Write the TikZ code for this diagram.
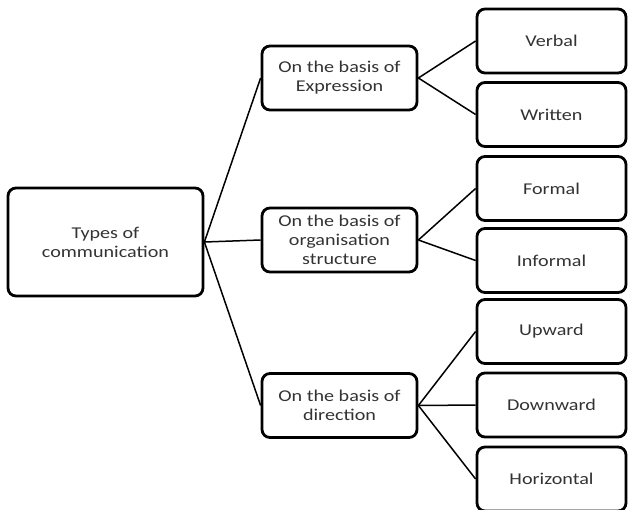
\documentclass[tikz,border=0pt]{standalone}
\usepackage{fontspec}
\setmainfont[FakeStretch=1.22]{Carlito}
\tikzset{
block/.style={
  draw,
  rectangle,
  rounded corners=8pt,
  line width=2.8pt,
  align=center,
  text=black!80,
  font=\fontsize{16.5}{19}\selectfont,
  inner sep=0pt
  },
root/.style={block, minimum width=195pt, minimum height=108pt},
mid/.style={block, minimum width=155pt, minimum height=64pt},
leaf/.style={block, minimum width=149pt, minimum height=64pt},
line/.style={line width=1.5pt}
}
\begin{document}
\begin{tikzpicture}[x=1pt,y=-1pt]
\useasboundingbox (0,0) rectangle (629,509);
\node[root] (types) at (105.5,242) {Types of\\communication};
\node[mid] (expr) at (339.5,78) {On the basis of\\Expression};
\node[mid] (org) at (339.5,240) {On the basis of\\organisation\\structure};
\node[mid] (dir) at (339.5,405.5) {On the basis of\\direction};
\node[leaf] (verbal) at (551.5,41) {Verbal};
\node[leaf] (written) at (551.5,114.5) {Written};
\node[leaf] (formal) at (551.5,188.5) {Formal};
\node[leaf] (informal) at (551.5,260.5) {Informal};
\node[leaf] (upward) at (551.5,331.5) {Upward};
\node[leaf] (downward) at (551.5,405) {Downward};
\node[leaf] (horizontal) at (551.5,479) {Horizontal};
\draw[line] (types.east) -- (expr.west);
\draw[line] (types.east) -- (org.west);
\draw[line] (types.east) -- (dir.west);
\draw[line] (expr.east) -- (verbal.west);
\draw[line] (expr.east) -- (written.west);
\draw[line] (org.east) -- (formal.west);
\draw[line] (org.east) -- (informal.west);
\draw[line] (dir.east) -- (upward.west);
\draw[line] (dir.east) -- (downward.west);
\draw[line] (dir.east) -- (horizontal.west);
\end{tikzpicture}
\end{document}
